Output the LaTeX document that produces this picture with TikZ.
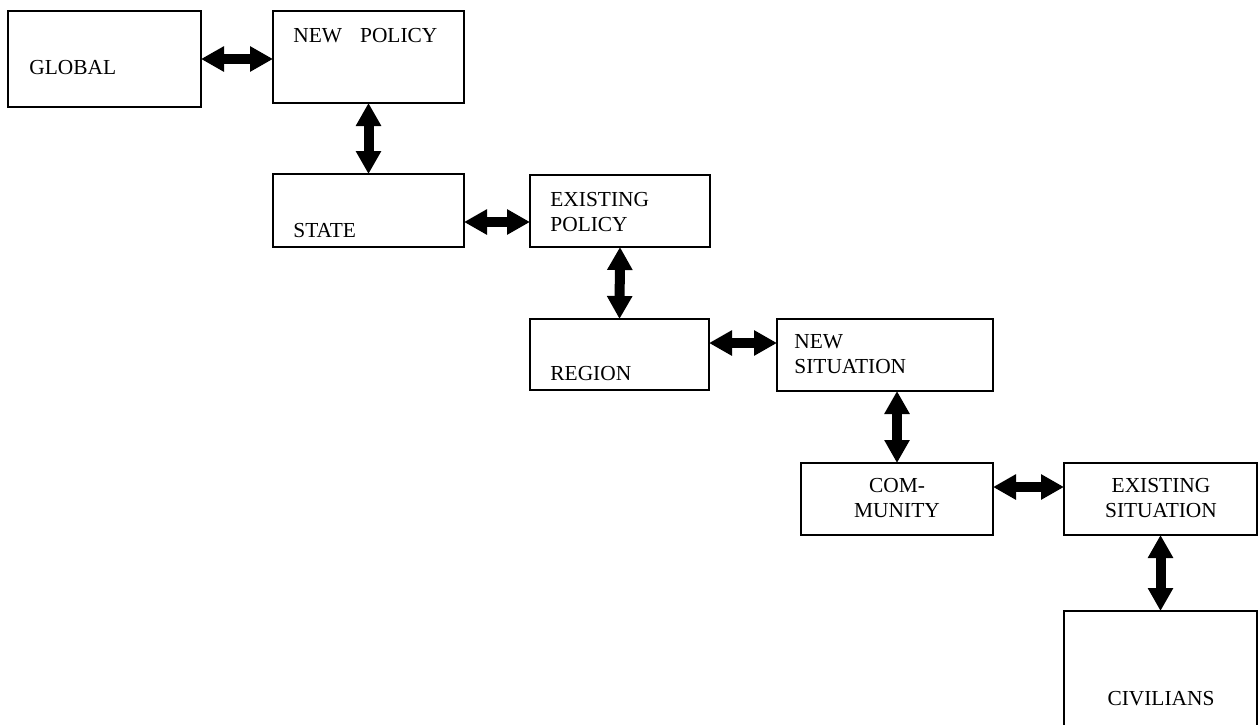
\documentclass[tikz,border=0pt]{standalone}
\usepackage{fontspec}
\setmainfont{Liberation Serif}
\usetikzlibrary{arrows.meta}

\begin{document}
\begin{tikzpicture}[x=0.5pt,y=-0.5pt,
	box/.style={draw, line width=1.4pt, inner sep=0pt, outer sep=0pt},
	lbl/.style={inner sep=0pt, font=\fontsize{10.7}{12.5}\selectfont},
	biarrow/.style={line width=5pt, >={Triangle[length=11.5pt,width=12pt]}, <->}]
	\clip (0,0) rectangle (1258,724);
	% boxes
	\node [box, minimum width=96.5pt, minimum height=48pt] (global) at (104.5,59) {};
	\node [box, minimum width=95.5pt, minimum height=46pt] (newpol) at (368.5,57) {};
	\node [box, minimum width=95.5pt, minimum height=36.5pt] (state) at (368.5,210.5) {};
	\node [box, minimum width=90pt, minimum height=36pt] (expol) at (620,211) {};
	\node [box, minimum width=89.5pt, minimum height=35.5pt] (region) at (619.5,354.5) {};
	\node [box, minimum width=108pt, minimum height=36pt] (newsit) at (885,355) {};
	\node [box, minimum width=96pt, minimum height=36pt] (com) at (897,499) {};
	\node [box, minimum width=96.5pt, minimum height=36pt] (exsit) at (1160.5,499) {};
	\node [box, minimum width=96.5pt, minimum height=70pt] (civ) at (1160.5,681) {};
	% texts (multi-line ones sit on their last line)
	\node [lbl, anchor=base west] (tglobal) at (29,74) {GLOBAL};
	\node [lbl, anchor=base west] (tnewpol) at (293,42) {NEW\hspace{9pt}POLICY};
	\node [lbl, anchor=base west] (tstate) at (293,237) {STATE};
	\node [lbl, anchor=base west, align=left] (texpol) at (550,231) {EXISTING\\POLICY};
	\node [lbl, anchor=base west] (tregion) at (550,380) {REGION};
	\node [lbl, anchor=base west, align=left] (tnewsit) at (794,373) {NEW\\SITUATION};
	\node [lbl, anchor=base, align=center] (tcom) at (897,517) {COM-\\MUNITY};
	\node [lbl, anchor=base, align=center] (texsit) at (1161,517) {EXISTING\\SITUATION};
	\node [lbl, anchor=base] (tciv) at (1161,705) {CIVILIANS};
	% connectors
	\draw [biarrow] (global.east) -- (global.east -| newpol.west);
	\draw [biarrow] (newpol.south) -- (state.north);
	\draw [biarrow] ([yshift=-5.75pt]state.east) -- ([yshift=-5.75pt]state.east -| expol.west);
	\draw [biarrow] (expol.south) -- (region.north);
	\draw [biarrow] ([yshift=5.75pt]region.east) -- ([yshift=5.75pt]region.east -| newsit.west);
	\draw [biarrow] (newsit.south -| com.north) -- (com.north);
	\draw [biarrow] ([yshift=6pt]com.east) -- ([yshift=6pt]com.east -| exsit.west);
	\draw [biarrow] (exsit.south) -- (civ.north);
\end{tikzpicture}
\end{document}
